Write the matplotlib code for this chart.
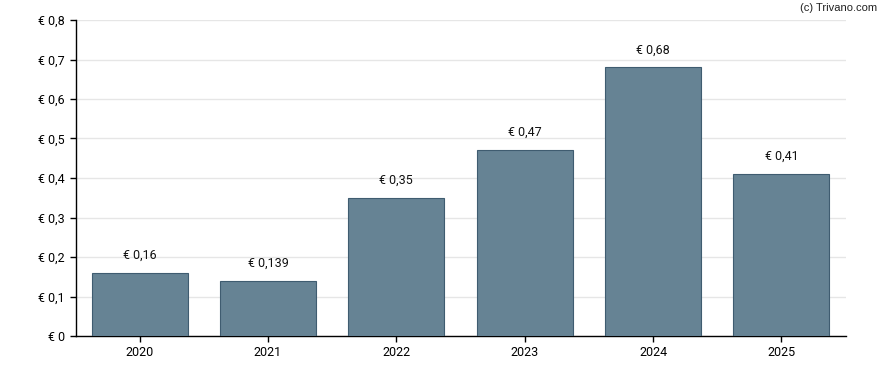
import matplotlib
matplotlib.use("Agg")
import matplotlib.pyplot as plt

# datos del gráfico
jaren = ["2020", "2021", "2022", "2023", "2024", "2025"]
dividend = [0.16, 0.139, 0.35, 0.47, 0.68, 0.41]
etiquetas = ["€ 0,16", "€ 0,139", "€ 0,35", "€ 0,47", "€ 0,68", "€ 0,41"]
yticks = [0, 0.1, 0.2, 0.3, 0.4, 0.5, 0.6, 0.7, 0.8]
ytick_labels = ["€ 0", "€ 0,1", "€ 0,2", "€ 0,3", "€ 0,4", "€ 0,5", "€ 0,6", "€ 0,7", "€ 0,8"]

plt.rcParams["font.family"] = ["Roboto", "DejaVu Sans"]

fig = plt.figure(figsize=(8.88, 3.7), dpi=100)
ax = fig.add_axes([75.5 / 888, 34 / 370, 770 / 888, 316 / 370])

x = list(range(len(jaren)))
ax.bar(x, dividend, width=0.75, color="#668394", edgecolor="#3f5c70", linewidth=0.8, zorder=3)

for xi, yi, txt in zip(x, dividend, etiquetas):
    ax.annotate(txt, (xi, yi), xytext=(0, 8), textcoords="offset points",
                ha="center", va="bottom", fontsize=9, color="#111111")

ax.set_xlim(-0.5, 5.5)
ax.set_ylim(0, 0.8)
ax.set_xticks(x)
ax.set_xticklabels(jaren)
ax.set_yticks(yticks)
ax.set_yticklabels(ytick_labels)
ax.tick_params(axis="both", labelsize=9, length=4, width=1, colors="#000000")
ax.grid(axis="y", color="#e6e6e6", linewidth=1, zorder=0)

for s in ["top", "right"]:
    ax.spines[s].set_visible(False)
for s in ["left", "bottom"]:
    ax.spines[s].set_linewidth(1)
    ax.spines[s].set_color("#000000")

fig.text(877 / 888, 1 - 8 / 370, "(c) Trivano.com", ha="right", va="center",
         fontsize=8, family="Liberation Sans", color="#222222")

fig.savefig("out.png", dpi=100)
